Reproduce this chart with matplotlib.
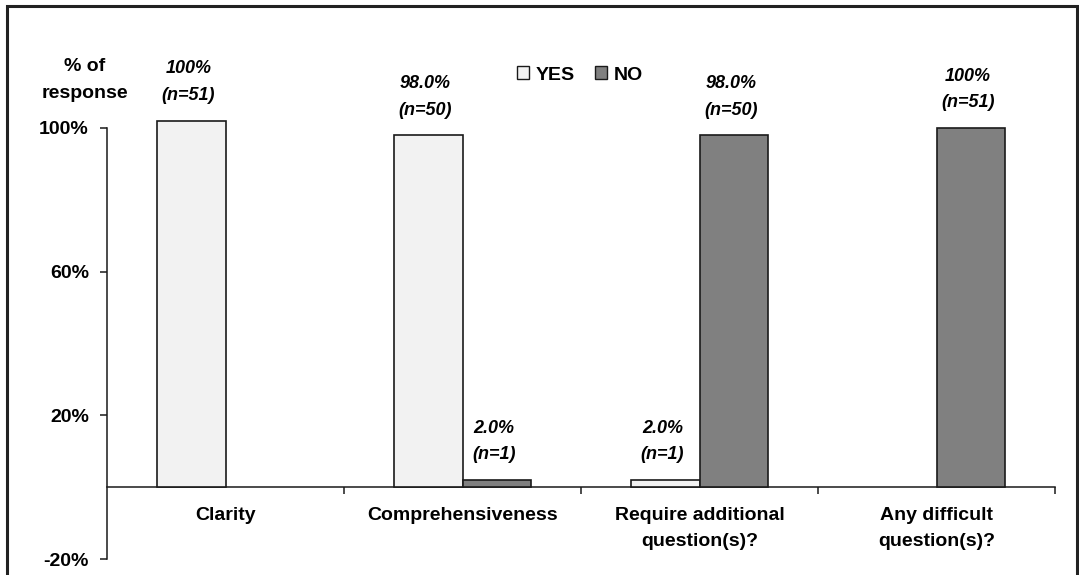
import matplotlib
matplotlib.use("Agg")
import matplotlib.pyplot as plt
from matplotlib.patches import Rectangle, Patch

categories = ["Clarity", "Comprehensiveness", "Require additional\nquestion(s)?", "Any difficult\nquestion(s)?"]
yes_values = [102.0, 98.0, 2.0, 0.0]
no_values = [0.0, 2.0, 98.0, 100.0]
yes_labels = ["100%\n(n=51)", "98.0%\n(n=50)", "2.0%\n(n=1)", ""]
no_labels = ["", "2.0%\n(n=1)", "98.0%\n(n=50)", "100%\n(n=51)"]
yticks = [-20, 20, 60, 100]

W, H = 1079, 575
plt.rcParams['font.family'] = ['Liberation Sans', 'DejaVu Sans']
fig = plt.figure(figsize=(W / 100, H / 100), dpi=100)
ax = fig.add_axes([107 / W, 1 - 559 / H, (1055 - 107) / W, (559 - 128) / H])

yes_color = "#f2f2f2"
no_color = "#808080"
edge = "#1a1a1a"
bw = 0.29
centers = [i + 0.5 for i in range(len(categories))]

yes_bars = ax.bar([c - bw / 2 for c in centers], yes_values, width=bw, color=yes_color,
                  edgecolor=edge, linewidth=1.2, clip_on=False, zorder=3)
no_bars = ax.bar([c + bw / 2 for c in centers], no_values, width=bw, color=no_color,
                 edgecolor=edge, linewidth=1.2, clip_on=False, zorder=3)
for bars, vals in ((yes_bars, yes_values), (no_bars, no_values)):
    for b, v in zip(bars, vals):
        if v == 0:
            b.set_visible(False)

for bars, labels in ((yes_bars, yes_labels), (no_bars, no_labels)):
    for b, lab in zip(bars, labels):
        if not lab:
            continue
        ax.annotate(lab, (b.get_x() + b.get_width() / 2, b.get_height()),
                    xytext=(-2, 12), textcoords="offset points", ha="center", va="bottom",
                    fontsize=13, style="italic", fontweight="bold", linespacing=1.75,
                    annotation_clip=False)

ax.set_xlim(0, len(categories))
ax.set_ylim(-20, 100)
ax.spines['bottom'].set_position(('data', 0))
ax.spines['top'].set_visible(False)
ax.spines['right'].set_visible(False)
for s in ('left', 'bottom'):
    ax.spines[s].set_linewidth(1.1)
    ax.spines[s].set_color(edge)

ax.set_yticks(yticks)
ax.set_yticklabels([f"{t}%" for t in yticks], fontsize=14, fontweight="bold")
ax.tick_params(axis='y', direction='out', length=5, width=1.1, pad=8, color=edge)

ax.set_xticks(range(1, len(categories) + 1))
ax.set_xticklabels([])
ax.tick_params(axis='x', which='major', direction='out', length=5, width=1.1, color=edge)
ax.set_xticks(centers, minor=True)
ax.set_xticklabels(categories, minor=True, fontsize=14, fontweight="bold", linespacing=1.7)
ax.tick_params(axis='x', which='minor', length=0, pad=14)

fig.text(85 / W, 1 - 80 / H, "% of\nresponse", ha="center", va="center",
         fontsize=14, fontweight="bold", linespacing=1.7)

handles = [Patch(facecolor=yes_color, edgecolor=edge, linewidth=1.0, label="YES"),
           Patch(facecolor=no_color, edgecolor=edge, linewidth=1.0, label="NO")]
fig.legend(handles=handles, loc="center", bbox_to_anchor=(580 / W, 1 - 75 / H), ncol=2,
           frameon=False, handlelength=0.65, handleheight=0.65, handletextpad=0.35,
           columnspacing=1.0, prop={'size': 14, 'weight': 'bold'}, borderpad=0, borderaxespad=0)

fig.patches.append(Rectangle((6.5 / W, -0.1), (1077 - 6.5) / W, 1 - 6 / H + 0.1,
                             transform=fig.transFigure, fill=False, linewidth=2.2,
                             edgecolor="#222222"))

fig.savefig("out.png", dpi=100)
